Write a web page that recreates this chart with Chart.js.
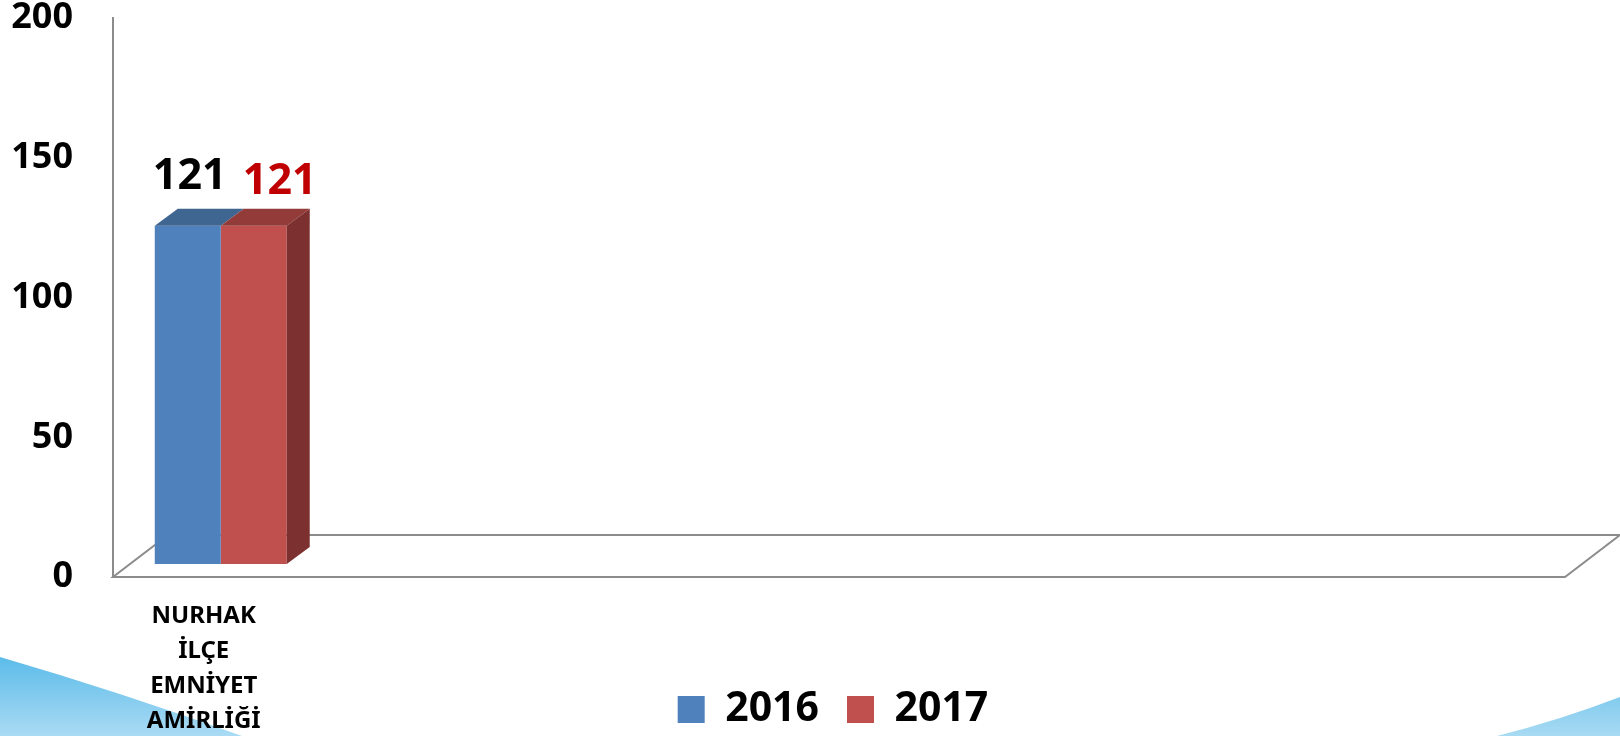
<!DOCTYPE html>
<html>
<head>
<meta charset="utf-8">
<script src="https://cdn.jsdelivr.net/npm/chart.js@4/dist/chart.umd.min.js"></script>
<style>
  html, body { margin: 0; padding: 0; background: #fff; }
  #wrap { width: 1620px; height: 736px; }
</style>
</head>
<body>
<div id="wrap"><canvas id="chart"></canvas></div>
<script>
const categories = [
    ['NURHAK', 'İLÇE', 'EMNİYET', 'AMİRLİĞİ'],
    '', '', '', '', '', '', ''
];
const years = ['2016', '2017'];
const values2016 = [121, null, null, null, null, null, null, null];
const values2017 = [121, null, null, null, null, null, null, null];
const yTicks = [0, 50, 100, 150, 200];

// 3D look: oblique depth
const DX = 23, DY = -17;       // bar depth
const SHIFT_X = 17, SHIFT_Y = -13;  // bars stand in the middle of the floor
const FLOOR_DX = 55, FLOOR_DY = -42;
const AREA_BOTTOM = 577;

const frontCols = ['#4F81BD', '#C0504D'];
const topCols = ['#3F6591', '#933B39'];
const sideCols = ['#2F4D6E', '#7C3130'];
const labelCols = ['#000000', '#C00000'];

const background = {
    id: 'background',
    afterLayout(chart) {
        // legend sits centred under the plot area, a bit lower
        const lg = chart.legend;
        const shift = (chart.chartArea.left + chart.chartArea.right) / 2 - (lg.left + lg.right) / 2 - 6;
        lg.left += shift;
        lg.right += shift;
        lg.top += 4;
        lg.bottom += 4;
        // category labels hang down beside the legend, do not clip them
        chart.scales.x._computeLabelArea = () => null;
    },
    beforeDraw(chart) {
        const ctx = chart.ctx;
        ctx.save();
        let g = ctx.createLinearGradient(0, 656, 0, 736);
        g.addColorStop(0, '#5BBBE9');
        g.addColorStop(1, '#AADBF4');
        ctx.fillStyle = g;
        ctx.beginPath();
        ctx.moveTo(0, 657);
        ctx.quadraticCurveTo(120, 692, 242, 736);
        ctx.lineTo(0, 736);
        ctx.closePath();
        ctx.fill();

        g = ctx.createLinearGradient(0, 697, 0, 736);
        g.addColorStop(0, '#82CBEE');
        g.addColorStop(1, '#A8DAF3');
        ctx.fillStyle = g;
        ctx.beginPath();
        ctx.moveTo(1497, 736);
        ctx.quadraticCurveTo(1560, 720, 1620, 697);
        ctx.lineTo(1620, 736);
        ctx.closePath();
        ctx.fill();
        ctx.restore();
    }
};

const floor3d = {
    id: 'floor3d',
    beforeDatasetsDraw(chart) {
        const {ctx, chartArea: a} = chart;
        ctx.save();
        ctx.strokeStyle = '#8C8C8C';
        ctx.lineWidth = 2;
        ctx.beginPath();
        ctx.moveTo(a.left, a.bottom);
        ctx.lineTo(a.right, a.bottom);
        ctx.lineTo(a.right + FLOOR_DX, a.bottom + FLOOR_DY);
        ctx.lineTo(a.left + FLOOR_DX, a.bottom + FLOOR_DY);
        ctx.closePath();
        ctx.stroke();
        ctx.restore();
        ctx.save();
        ctx.translate(SHIFT_X, SHIFT_Y);
    },
    afterDatasetsDraw(chart) {
        const ctx = chart.ctx;
        chart.data.datasets.forEach((ds, i) => {
            const meta = chart.getDatasetMeta(i);
            meta.data.forEach((bar, j) => {
                if (ds.data[j] == null) return;
                const l = bar.x - bar.width / 2, r = bar.x + bar.width / 2;
                const t = bar.y, b = bar.base;
                ctx.fillStyle = topCols[i];
                ctx.beginPath();
                ctx.moveTo(l, t);
                ctx.lineTo(r, t);
                ctx.lineTo(r + DX, t + DY);
                ctx.lineTo(l + DX, t + DY);
                ctx.closePath();
                ctx.fill();
                if (i === chart.data.datasets.length - 1) {
                    ctx.fillStyle = sideCols[i];
                    ctx.beginPath();
                    ctx.moveTo(r, t);
                    ctx.lineTo(r + DX, t + DY);
                    ctx.lineTo(r + DX, b + DY);
                    ctx.lineTo(r, b);
                    ctx.closePath();
                    ctx.fill();
                }
            });
        });
        ctx.restore();

        // value labels
        const offs = [[2, -49], [26, -44]];
        ctx.save();
        ctx.font = 'bold 43px "Noto Sans"';
        ctx.textAlign = 'center';
        ctx.textBaseline = 'middle';
        chart.data.datasets.forEach((ds, i) => {
            const meta = chart.getDatasetMeta(i);
            meta.data.forEach((bar, j) => {
                if (ds.data[j] == null) return;
                ctx.fillStyle = labelCols[i];
                ctx.fillText(String(ds.data[j]), bar.x + SHIFT_X + offs[i][0], bar.y + SHIFT_Y + offs[i][1]);
            });
        });
        ctx.restore();
    }
};

const ctx = document.getElementById('chart').getContext('2d');
const myChart = new Chart(ctx, {
    type: 'bar',
    data: {
        labels: categories,
        datasets: [
            { label: years[0], data: values2016, backgroundColor: frontCols[0], borderWidth: 0 },
            { label: years[1], data: values2017, backgroundColor: frontCols[1], borderWidth: 0 }
        ]
    },
    options: {
        responsive: true,
        maintainAspectRatio: false,
        animation: false,
        layout: { padding: { left: 0, right: 55, top: 18, bottom: 0 } },
        datasets: {
            bar: { categoryPercentage: 0.727, barPercentage: 1.0, grouped: true }
        },
        plugins: {
            tooltip: { enabled: false },
            legend: {
                position: 'bottom',
                labels: {
                    boxWidth: 27,
                    boxHeight: 27,
                    padding: 28,
                    color: '#000',
                    font: { family: '"Noto Sans"', size: 41, weight: 'bold' }
                }
            }
        },
        scales: {
            x: {
                grid: { display: false, drawTicks: false },
                border: { display: false },
                ticks: {
                    color: '#000',
                    autoSkip: false,
                    maxRotation: 0,
                    padding: 22,
                    font: { family: '"Noto Sans"', size: 24, weight: 'bold', lineHeight: '35px' }
                },
                afterFit(scale) {
                    const lh = scale.chart.legend ? scale.chart.legend.height : 0;
                    scale.height = 736 - AREA_BOTTOM - lh;
                }
            },
            y: {
                min: 0,
                max: 200,
                afterBuildTicks(scale) { scale.ticks = yTicks.map(v => ({ value: v })); },
                grid: { display: false, drawTicks: false },
                border: { display: true, color: '#8C8C8C', width: 2 },
                ticks: {
                    color: '#000',
                    padding: 40,
                    font: { family: '"Noto Sans"', size: 36, weight: 'bold' }
                },
                afterFit(scale) {
                    scale.width = 113;
                    scale.paddingTop = 0;
                    scale.paddingBottom = 0;
                }
            }
        }
    },
    plugins: [background, floor3d]
});
</script>
</body>
</html>
